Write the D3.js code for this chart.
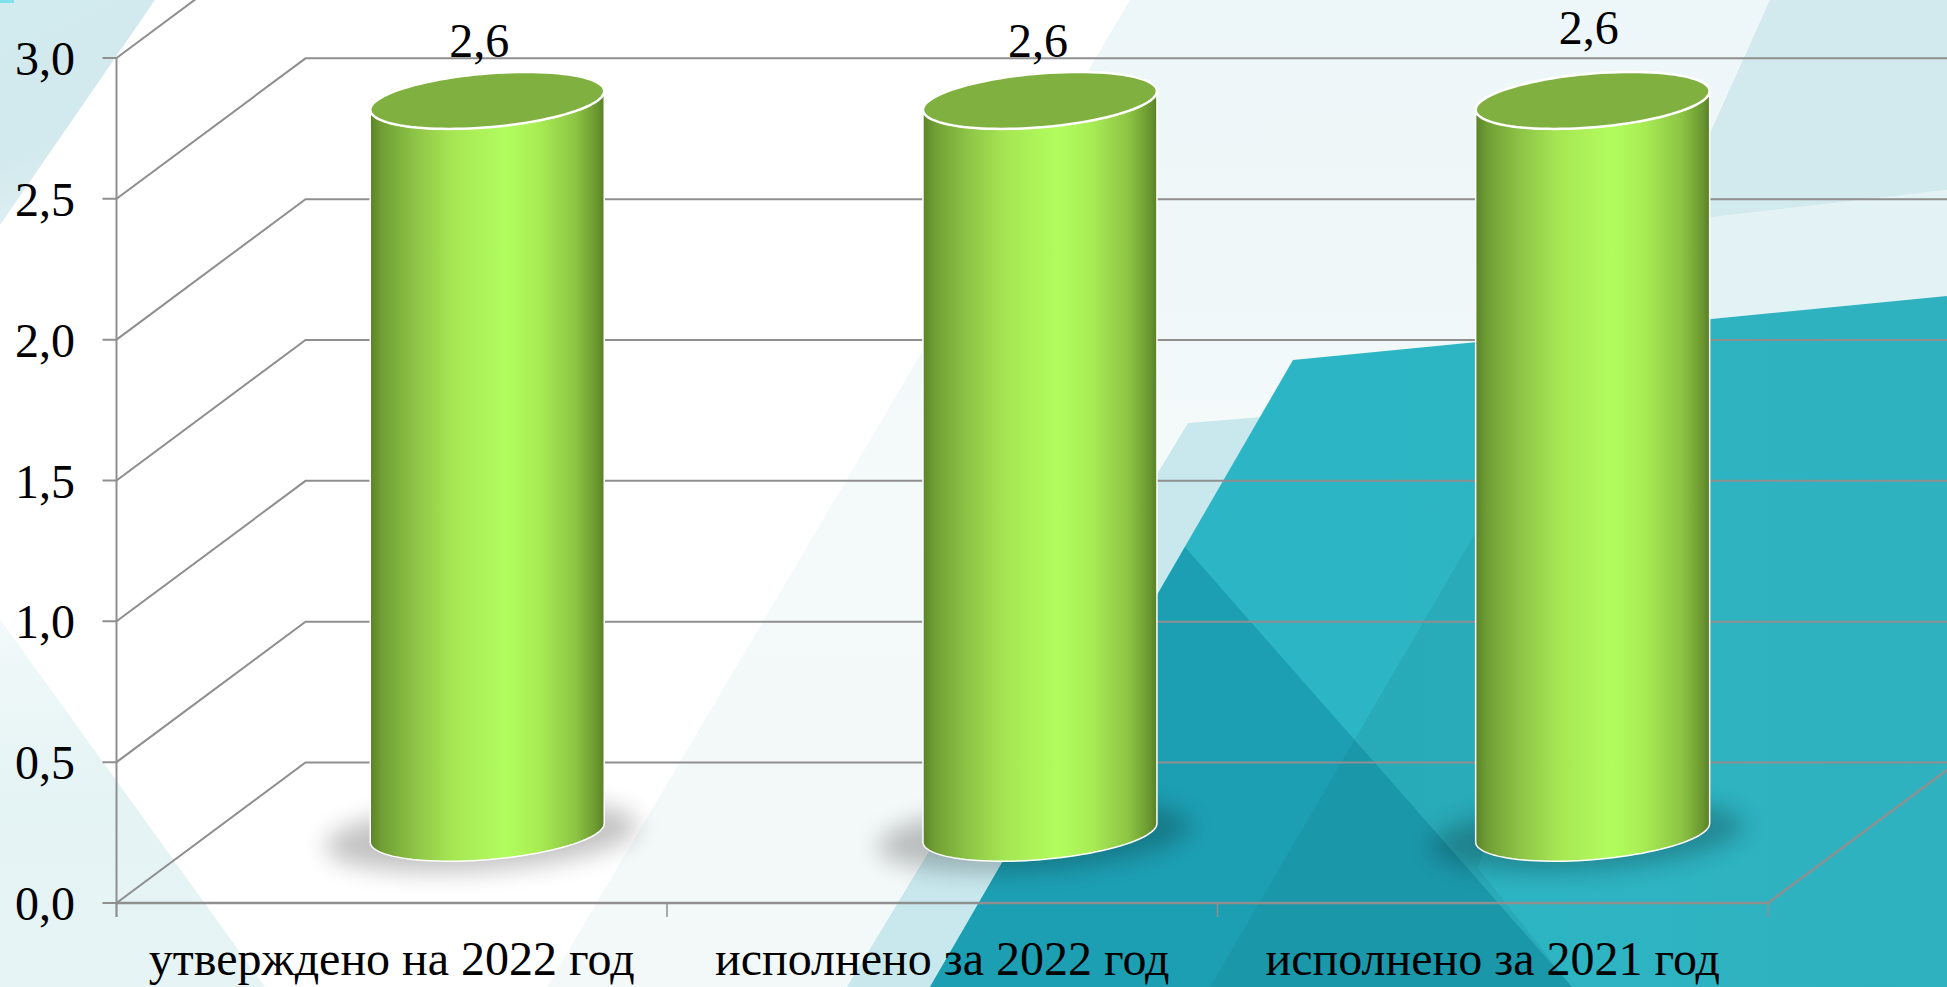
<!DOCTYPE html>
<html><head><meta charset="utf-8">
<script src="https://cdnjs.cloudflare.com/ajax/libs/d3/7.8.5/d3.min.js"></script>
<style>html,body{margin:0;padding:0;background:#fff;overflow:hidden}svg{display:block}text{font-family:"Liberation Serif","Times New Roman",serif;fill:#000}</style>
</head><body>
<script>
const categories = ["утверждено на 2022 год","исполнено за 2022 год","исполнено за 2021 год"];
const values = [2.6,2.6,2.6];
const yTicks = [0,0.5,1,1.5,2,2.5,3];
const W=1947,H=987;
const svg=d3.select("body").append("svg").attr("width",W).attr("height",H);
const defs=svg.append("defs");
function vgrad(id,stops,x1,y1,x2,y2){
 const g=defs.append("linearGradient").attr("id",id).attr("gradientUnits","userSpaceOnUse")
  .attr("x1",x1).attr("y1",y1).attr("x2",x2).attr("y2",y2);
 stops.forEach(s=>g.append("stop").attr("offset",s[0]).attr("stop-color",s[1]));
}
vgrad("bgLight",[[0,"#edf6f8"],[.3,"#eff7f9"],[.42,"#f4fafa"],[1,"#f3f8f9"]],0,0,0,987);
vgrad("bgTL",[[0,"#d2ebee"],[.6,"#d2e9ed"],[1,"#e4f3f5"]],0,0,100,225);
vgrad("bgBL",[[0,"#f2f9f9"],[.5,"#e4f3f4"],[1,"#e6f4f5"]],0,620,0,987);
vgrad("bgTeal",[[0,"#2cb6c5"],[1,"#2fb1bf"]],1293,0,1947,0);
const bgPolys=[
 {p:[[0,0],[155,0],[0,225]],f:"url(#bgTL)"},
 {p:[[0,619],[265,987],[0,987]],f:"url(#bgBL)"},
 {p:[[1130,0],[1947,0],[1947,987],[547,987]],f:"url(#bgLight)"},
 {p:[[1770,0],[1947,0],[1947,190],[1670,222]],f:"#d2eaed"},
 {p:[[1670,222],[1947,190],[1947,300],[1640,335]],f:"#e3f2f4"},
 {p:[[1188,423],[1300,414],[1100,987],[847,987]],f:"#c8e8ed"},
 {p:[[1293,360],[1947,296],[1947,987],[930,987]],f:"url(#bgTeal)"},
 {p:[[1185,547],[1572,987],[930,987]],f:"#1d9fb3"},
 {p:[[1480,525],[1500,525],[1500,800],[1478,868],[1572,987],[1210,987]],f:"#13606f",o:.12},
 {p:[[0,0],[14,0],[14,3],[0,3]],f:"#7fe0ee"}
];
svg.append("g").selectAll("polygon").data(bgPolys).join("polygon").attr("points",d=>d.p.join(" ")).attr("fill",d=>d.f).attr("fill-opacity",d=>d.o||1);
const x0=116.5,x1=1768,dx=189,dy=-140.5;
const x=d3.scaleBand().domain(categories).range([x0,x1]);
const y=d3.scaleLinear().domain([0,3]).range([903,58]);
const stroke="#8f8f8f";
const g=svg.append("g");
g.selectAll(".grid").data(yTicks).join("path").attr("fill","none").attr("stroke",stroke).attr("stroke-width",2)
 .attr("d",d=>`M${x0-14},${y(d)}H${x0}L${x0+dx},${y(d)+dy}H${W}`);
g.append("path").attr("fill","none").attr("stroke",stroke).attr("stroke-width",2)
 .attr("d",`M${x0},${y(3)}V${y(0)+14}`);
g.append("path").attr("fill","none").attr("stroke",stroke).attr("stroke-width",2.5)
 .attr("d",`M${x0},${y(0)}H${x1}L${x1+dx},${y(0)+dy}`);
g.selectAll(".tk").data(d3.range(4)).join("line").attr("stroke",stroke).attr("stroke-width",1.5)
 .attr("x1",i=>x0+i*x.bandwidth()).attr("x2",i=>x0+i*x.bandwidth()).attr("y1",y(0)).attr("y2",y(0)+14);
svg.selectAll(".yl").data(yTicks).join("text").attr("text-anchor","end").attr("x",75).attr("y",d=>y(d)+17)
 .attr("font-size",48).text(d=>d3.format(".1f")(d).replace(".",","));
svg.selectAll(".xl").data(categories).join("text").attr("text-anchor","middle").attr("x",d=>x(d)+x.bandwidth()/2).attr("y",975)
 .attr("font-size",48).text(d=>d);
const grad=defs.append("linearGradient").attr("id","cyl");
[[0,"#5a8329"],[0.05,"#709f34"],[0.2,"#8fc647"],[0.35,"#a6e653"],[0.58,"#b2fd5e"],[0.72,"#a8ec54"],[0.88,"#8cc444"],[0.97,"#6a962f"],[1,"#587f28"]]
 .forEach(s=>grad.append("stop").attr("offset",s[0]).attr("stop-color",s[1]));
defs.append("filter").attr("id","blur").attr("x","-30%").attr("y","-60%").attr("width","160%").attr("height","220%")
 .append("feGaussianBlur").attr("stdDeviation",12);
const R=117,c=28.5,b=c*dx/-dy,a=Math.sqrt(R*R-b*b),t0=Math.atan2(b,a);
const pt=(cx,cy,t)=>[cx+a*Math.cos(t)+b*Math.sin(t),cy-c*Math.sin(t)];
const line=d3.line();
const labelDy=[0,0,-13], labelDx=[-8,-2,-4];
const bars=svg.selectAll(".bar").data(categories.map((k,i)=>({k,v:values[i],i}))).join("g");
bars.each(function(d){
 const s=d3.select(this);
 const cx=x(d.k)+x.bandwidth()/2+dx/2+1+d.i*2.2, base=y(0)+dy/2, top=y(d.v)+dy/2;
 s.append("ellipse").attr("cx",cx-6).attr("cy",base+3).attr("rx",R+40).attr("ry",34).attr("fill","#000").attr("opacity",.24).attr("filter","url(#blur)").attr("transform",`rotate(-4 ${cx} ${base})`);
 const front=d3.range(0,1.0001,0.02).map(u=>t0+Math.PI+u*Math.PI);
 const body=[...front.map(t=>pt(cx,base,t)),...front.slice().reverse().map(t=>pt(cx,top,t))];
 s.append("path").attr("d",line(body)+"Z").attr("fill","url(#cyl)").attr("stroke","#fff").attr("stroke-width",1.5);
 const ring=d3.range(0,1.0001,0.01).map(u=>pt(cx,top,u*2*Math.PI));
 s.append("path").attr("d",line(ring)+"Z").attr("fill","#80b03f").attr("stroke","#fff").attr("stroke-width",2.5);
 s.append("text").attr("text-anchor","middle").attr("x",cx+labelDx[d.i]).attr("y",57+labelDy[d.i]).attr("font-size",48).text(d3.format(".1f")(d.v).replace(".",","));
});
</script>
</body></html>
